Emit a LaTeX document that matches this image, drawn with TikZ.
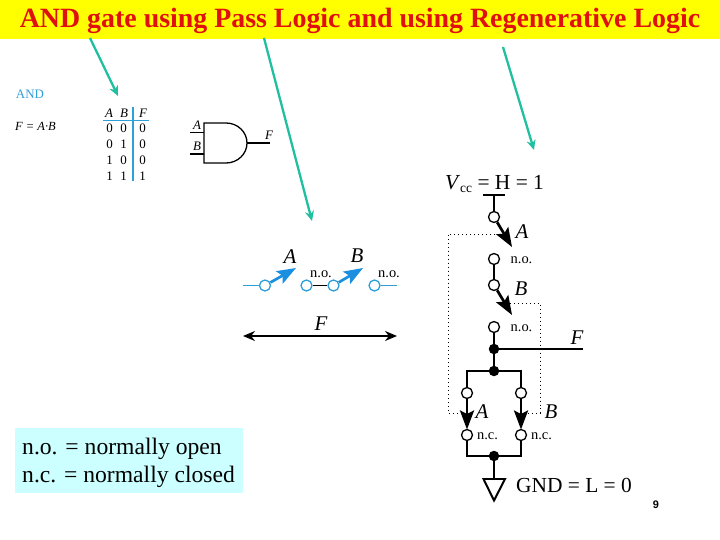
\documentclass[tikz,border=0pt]{standalone}
\usepackage{fontspec}
\setmainfont{Liberation Serif}
\setsansfont{Liberation Sans}
\usetikzlibrary{arrows.meta}
\definecolor{bandyellow}{HTML}{FFFF00}
\definecolor{titlered}{HTML}{E01010}
\definecolor{teal}{HTML}{1FBF9F}
\definecolor{figblue}{HTML}{2F9FD8}
\definecolor{swblue}{HTML}{1A8FE0}
\definecolor{boxcyan}{HTML}{CCFFFF}
\tikzset{
  x=1bp,y=-1bp,
  txt/.style={inner sep=0pt,font=\fontsize{#1}{#1}\selectfont},
  lbl/.style={inner sep=0pt,font=\fontsize{#1}{#1}\selectfont\itshape},
  ring/.style={circle,draw=#1,fill=white,line width=1.3pt,minimum size=11bp,inner sep=0pt},
  dot/.style={circle,fill=black,minimum size=10.5bp,inner sep=0pt},
  wire/.style={line width=2.7pt,black},
  thin wire/.style={line width=2pt,black},
  tealarrow/.style={teal,line width=2.3pt,-{Stealth[length=10bp,width=9bp]}},
  swarrow/.style={line width=2.7pt,-{Stealth[length=19bp,width=14bp,inset=3.5bp]}},
  dots/.style={black,line width=1pt,dash pattern=on 1pt off 3pt},
}
\begin{document}
\begin{tikzpicture}
\useasboundingbox (0,0) rectangle (720,540);
% title
\fill[bandyellow] (0,0) rectangle (720,39);
\node[txt=25,text=titlered,font=\fontsize{28}{28}\selectfont\bfseries] (title) at (360,21) {AND gate using Pass Logic and using Regenerative Logic};
% pointers
\coordinate (p1a) at (90,38);\coordinate (p1b) at (118,96);
\coordinate (p2a) at (264,38);\coordinate (p2b) at (312,221);
\coordinate (p3a) at (503,47);\coordinate (p3b) at (534,150);
\draw[tealarrow] (p1a)--(p1b);
\draw[tealarrow] (p2a)--(p2b);
\draw[tealarrow] (p3a)--(p3b);
% AND definition
\node[txt=13,text=figblue] (andname) at (30,94.5) {AND};
\node[lbl=12.5] (andeq) at (35.5,126.5) {F = A·B};
% truth table
\coordinate (tv1) at (133,107);\coordinate (tv2) at (133,181);
\coordinate (th1) at (103,120.5);\coordinate (th2) at (149,120.5);
\draw[figblue,line width=1.2pt] (tv1)--(tv2);
\draw[figblue,line width=1.2pt] (th1)--(th2);
\foreach \t/\x/\y/\n in {A/109/113/ta,B/124/113/tb,F/143/113/tf}
  \node[lbl=13] (\n) at (\x,\y) {\t};
\foreach \a/\b/\f/\y in {0/0/0/128,0/1/0/144,1/0/0/160,1/1/1/176}{
  \node[txt=13] (ra\y) at (109.5,\y) {\a};
  \node[txt=13] (rb\y) at (123.5,\y) {\b};
  \node[txt=13] (rf\y) at (142.5,\y) {\f};
}
% gate
\draw[line width=1.3pt] (204,123) -- (226,123) arc[start angle=-90,end angle=90,x radius=21,y radius=20] -- (204,163) -- cycle;
\coordinate (gi1a) at (190,132.5);\coordinate (gi1b) at (204,132.5);
\coordinate (gi2a) at (190,154);\coordinate (gi2b) at (204,154);
\coordinate (goa) at (247,143);\coordinate (gob) at (270,143);
\draw[line width=1.8pt] (gi1a)--(gi1b);
\draw[line width=1.8pt] (gi2a)--(gi2b);
\draw[line width=1.2pt] (goa)--(gob);
\node[lbl=13] (ga) at (197,125) {A};
\node[lbl=13] (gb) at (197,146) {B};
\node[lbl=13] (gf) at (269,135) {F};
% pass logic
\node[ring=figblue] (s1) at (265,285.5) {};
\node[ring=figblue] (s2) at (306.5,285.5) {};
\node[ring=figblue] (s3) at (333.5,285.5) {};
\node[ring=figblue] (s4) at (374.5,285.5) {};
\coordinate (sl) at (243,285.5);\coordinate (sr) at (397,285.5);
\coordinate (t1) at (296,268);\coordinate (t2) at (363,268);
\draw[figblue,line width=2pt] (sl)--(s1);
\draw[figblue,line width=2pt] (s4)--(sr);
\draw[thin wire] (s2)--(s3);
\draw[swarrow,swblue] (s1)--(t1);
\draw[swarrow,swblue] (s3)--(t2);
\node[lbl=21] (la) at (290,257) {A};
\node[lbl=21] (lb) at (357,256) {B};
\node[txt=14.5] (no1) at (321,274.5) {n.o.};
\node[txt=14.5] (no2) at (389,274.5) {n.o.};
\coordinate (fl) at (243,336);\coordinate (fr) at (397,336);
\draw[line width=1.6pt,{Stealth[length=12bp,width=10bp]}-{Stealth[length=12bp,width=10bp]}] (fl)--(fr);
\node[lbl=21] (lf) at (321,324) {F};
% regenerative logic
\node[txt=21.5] (vcc) at (494.5,184) {\textit{V}\raisebox{-3pt}{\fontsize{13.5}{13.5}\selectfont cc} = H = 1};
\coordinate (vl) at (483,195);\coordinate (vr) at (505,195);\coordinate (vm) at (494,195);
\draw[wire] (vl)--(vr);
\node[ring=black] (c1) at (494,217) {};
\node[ring=black] (c2) at (494,259) {};
\node[ring=black] (c3) at (494,285) {};
\node[ring=black] (c4) at (494,327) {};
\node[dot] (j1) at (494,349) {};
\node[dot] (j2) at (494,371) {};
\coordinate (a1) at (512,247);\coordinate (a2) at (512,315);
\draw[wire] (vm)--(c1);
\draw[swarrow] (c1)--(a1);
\draw[wire] (c2)--(c3);
\draw[swarrow] (c3)--(a2);
\draw[wire] (c4)--(j1);
\draw[wire] (j1)--(j2);
\coordinate (fo) at (583,349);
\draw[wire] (j1)--(fo);
\node[lbl=21] (rf) at (577,338) {F};
\node[lbl=21] (ra) at (522,232) {A};
\node[lbl=21] (rb) at (521,289) {B};
\node[txt=14.5] (rno1) at (521.5,260) {n.o.};
\node[txt=14.5] (rno2) at (521.5,328) {n.o.};
\coordinate (ll) at (467,371);\coordinate (lr) at (521,371);
\node[ring=black] (c5) at (467,393) {};
\node[ring=black] (c6) at (521,393) {};
\node[ring=black] (c7) at (467,435) {};
\node[ring=black] (c8) at (521,435) {};
\coordinate (m1) at (467,429.5);\coordinate (m2) at (521,429.5);
\coordinate (bl) at (467,456);\coordinate (br) at (521,456);
\node[dot] (j3) at (494,456) {};
\draw[thin wire] (c5)--(ll)--(lr)--(c6);
\draw[swarrow] (c5)--(m1);
\draw[swarrow] (c6)--(m2);
\draw[thin wire] (c7)--(bl)--(br)--(c8);
\coordinate (gt) at (494,479);
\draw[wire] (j3)--(gt);
\draw[line width=2pt,fill=white] (483.5,479)--(505,479)--(494,500.5)--cycle;
\node[lbl=21] (ra2) at (482,412) {A};
\node[lbl=21] (rb2) at (551,412) {B};
\node[txt=14.5] (nc1) at (487.5,436) {n.c.};
\node[txt=14.5] (nc2) at (541.5,436) {n.c.};
\node[txt=21.5] (gnd) at (574,485) {GND = L = 0};
% dotted control lines
\coordinate (d1a) at (499,234);\coordinate (d1b) at (448,234);\coordinate (d1c) at (448,413);\coordinate (d1d) at (461,413);
\coordinate (d2a) at (510,303);\coordinate (d2b) at (540,303);\coordinate (d2c) at (540,413);\coordinate (d2d) at (528,413);
\draw[dots] (d1a)--(d1b)--(d1c)--(d1d);
\draw[dots] (d2a)--(d2b)--(d2c)--(d2d);
% legend
\fill[boxcyan] (15,428) rectangle (243,493);
\node[txt=23.7,anchor=west] (leg1) at (22,448.5) {n.o. = normally open};
\node[txt=23.7,anchor=west] (leg2) at (22,476.5) {n.c. = normally closed};
\node[txt=11,font=\sffamily\bfseries\fontsize{11}{11}\selectfont] (pg) at (656,505) {9};
\end{tikzpicture}
\end{document}
